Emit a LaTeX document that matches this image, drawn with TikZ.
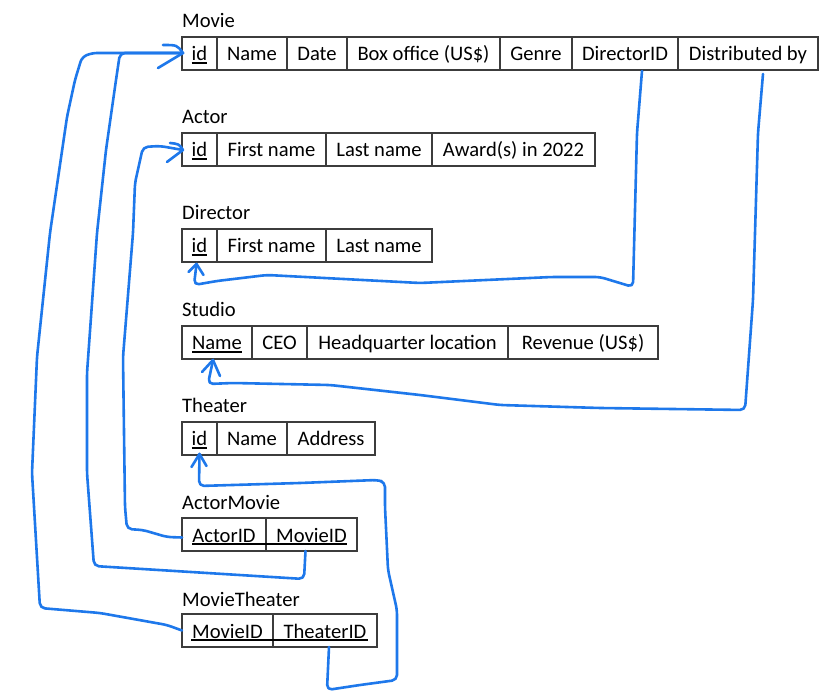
\documentclass[tikz,border=0pt]{standalone}
\usepackage{fontspec}
\setmainfont{Carlito}
\usetikzlibrary{calc}
\definecolor{pen}{RGB}{30,120,235}
\definecolor{gridc}{RGB}{60,60,60}
\newcommand\keyul[1]{\setbox0=\hbox{#1}\rlap{\rule[-2.8pt]{\wd0}{1.6pt}}\box0}
\begin{document}
\begin{tikzpicture}[x=1pt,y=-1pt,
  cell/.style={draw=gridc, line width=1.3pt, minimum height=33pt, inner sep=0pt, outer sep=0pt,
    text height=15pt, text depth=0pt, anchor=north west,
    font=\fontsize{20.6}{24}\selectfont},
  title/.style={anchor=base west, inner sep=0pt, font=\fontsize{20.6}{24}\selectfont},
  link/.style={draw=pen, line width=2.6pt, line cap=round, line join=round, rounded corners=5pt},
  tip/.style={draw=pen, line width=2.6pt, line cap=round, line join=round},
  keyline/.style={draw=black, line width=1.6pt}]
\fill[white] (0,0) rectangle (830,700);
\useasboundingbox (0,0) rectangle (830,700);

% ---------- Movie
\node[title] (tmovie) at (182,28) {Movie};
\node[cell, minimum width=35pt]  (mv1) at (182,37) {\keyul{id}};
\node[cell, minimum width=70pt]  (mv2) at (mv1.north east) {Name};
\node[cell, minimum width=60pt]  (mv3) at (mv2.north east) {Date};
\node[cell, minimum width=153pt] (mv4) at (mv3.north east) {Box office (US\$)};
\node[cell, minimum width=72pt]  (mv5) at (mv4.north east) {Genre};
\node[cell, minimum width=106pt] (mv6) at (mv5.north east) {DirectorID};
\node[cell, minimum width=140pt] (mv7) at (mv6.north east) {Distributed by};

% ---------- Actor
\node[title] (tactor) at (182,124) {Actor};
\node[cell, minimum width=35pt]  (a1) at (182,133) {\keyul{id}};
\node[cell, minimum width=109pt] (a2) at (a1.north east) {First name};
\node[cell, minimum width=106pt] (a3) at (a2.north east) {Last name};
\node[cell, minimum width=163pt] (a4) at (a3.north east) {Award(s) in 2022};

% ---------- Director
\node[title] (tdirector) at (182,220) {Director};
\node[cell, minimum width=35pt]  (d1) at (182,229) {\keyul{id}};
\node[cell, minimum width=109pt] (d2) at (d1.north east) {First name};
\node[cell, minimum width=106pt] (d3) at (d2.north east) {Last name};

% ---------- Studio
\node[title] (tstudio) at (182,317) {Studio};
\node[cell, minimum width=70pt]  (s1) at (182,326) {\keyul{Name}};
\node[cell, minimum width=55pt]  (s2) at (s1.north east) {CEO};
\node[cell, minimum width=201pt] (s3) at (s2.north east) {Headquarter location};
\node[cell, minimum width=150pt] (s4) at (s3.north east) {Revenue (US\$)};

% ---------- Theater
\node[title] (ttheater) at (182,413) {Theater};
\node[cell, minimum width=35pt] (t1) at (182,422) {\keyul{id}};
\node[cell, minimum width=70pt] (t2) at (t1.north east) {Name};
\node[cell, minimum width=88pt] (t3) at (t2.north east) {Address};

% ---------- ActorMovie
\node[title] (tam) at (182,509) {ActorMovie};
\node[cell, minimum width=84pt] (am1) at (182,518) {ActorID};
\node[cell, minimum width=91pt] (am2) at (am1.north east) {MovieID};
\draw[keyline] ([xshift=10pt,yshift=-2pt]am1.base west) -- ([xshift=-10pt,yshift=-2pt]am2.base east);

% ---------- MovieTheater
\node[title] (tmt) at (182,606) {MovieTheater};
\node[cell, minimum width=91pt]  (mt1) at (182,614) {MovieID};
\node[cell, minimum width=104pt] (mt2) at (mt1.north east) {TheaterID};
\draw[keyline] ([xshift=9pt,yshift=-2pt]mt1.base west) -- ([xshift=-9pt,yshift=-2pt]mt2.base east);

% ---------- arrow tip positions
\coordinate (mtip) at ($(mv1.west)+(1,-0.5)$);
\coordinate (atip) at ($(a1.west)+(1,0.5)$);
\coordinate (dtip) at ($(d1.south)+(-3,2)$);
\coordinate (stip) at ($(s1.south)+(-4,1)$);
\coordinate (ttip) at ($(t1.south)+(0,-1)$);

% ---------- connectors
% MovieTheater.MovieID -> Movie.id
\draw[link] (mt1.west) -- (167,625) -- (100,613) -- (40,608) -- (32,473) -- (37,357)
  -- (50,233) -- (67,117) -- (75,80) -- (82,57) -- (92,53) -- (mtip);
% ActorMovie.MovieID -> Movie.id
\draw[link] ($(am2.south)+(-6,0)$) -- (304,579) -- (94,566) -- (87,473) -- (87,373)
  -- (97,233) -- (106,150) -- (116,80) -- (120,53) -- (mtip);
% ActorMovie.ActorID -> Actor.id
\draw[link] ($(am1.west)+(0,3)$) -- (167,537) -- (143,530) -- (127,529) -- (125,507)
  -- (123,357) -- (133,233) -- (135,183) -- (143,147) -- (160,146) -- (atip);
% Movie.DirectorID -> Director.id
\draw[link] ($(mv6.south)+(17,1)$) -- (637,133) -- (633,287) -- (600,277) -- (552,277)
  -- (420,283) -- (267,275) -- (217,281) -- (194,285) -- (dtip);
% Movie.Distributed by -> Studio.Name
\draw[link] ($(mv7.south)+(15,4)$) -- (758,133) -- (753,300) -- (745,410) -- (600,408)
  -- (500,405) -- (420,395) -- (330,385) -- (233,383) -- (208,384) -- (stip);
% MovieTheater.TheaterID -> Theater.id
\draw[link] ($(mt2.south)+(4,0)$) -- (327,690) -- (360,685) -- (397,680) -- (397,610)
  -- (388,570) -- (385,507) -- (385,482) -- (377,480) -- (300,483) -- (199,486) -- (ttip);

% ---------- arrow heads
\draw[tip] ($(mtip)+(-20,-8)$) .. controls ($(mtip)+(-6,-8)$) .. (mtip) -- ($(mtip)+(-25,15)$);
\draw[tip] ($(atip)+(-13,-7)$) .. controls ($(atip)+(-4,-6)$) .. (atip) -- ($(atip)+(-16,12)$);
\draw[tip] ($(dtip)+(-8,8)$) -- (dtip) -- ($(dtip)+(7,11)$);
\draw[tip] ($(stip)+(-11,12)$) -- (stip) -- ($(stip)+(7,16)$);
\draw[tip] ($(ttip)+(-8,13)$) -- (ttip) -- ($(ttip)+(7,12)$);
\end{tikzpicture}
\end{document}
